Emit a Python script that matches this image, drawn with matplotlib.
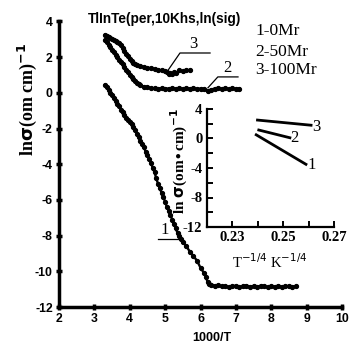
import matplotlib
matplotlib.use("Agg")
import matplotlib.pyplot as plt
from matplotlib.ticker import MultipleLocator

plt.rcParams["axes.unicode_minus"] = False

# ---------------- data ----------------
x1 = [3.30, 3.35, 3.40, 3.45, 3.50, 3.55, 3.60, 3.65, 3.70, 3.75, 3.80, 3.85, 3.90, 3.95,
      4.00, 4.05, 4.10, 4.15, 4.20, 4.25, 4.30, 4.35, 4.40, 4.45, 4.50, 4.55, 4.60, 4.65,
      4.70, 4.75, 4.80, 4.85, 4.90, 4.95, 5.00, 5.05, 5.10, 5.15, 5.20, 5.25, 5.30, 5.35,
      5.40, 5.45, 5.50, 5.60, 5.70, 5.80, 5.90, 6.00, 6.10, 6.15, 6.20, 6.25,
      6.30, 6.40, 6.50, 6.60, 6.70, 6.80, 6.90, 7.00, 7.10, 7.20, 7.30, 7.40, 7.50,
      7.60, 7.70, 7.80, 7.90, 8.00, 8.10, 8.20, 8.30, 8.40, 8.50, 8.60, 8.70]
y1 = [0.45, 0.30, 0.15, 0.00, -0.15, -0.30, -0.45, -0.60, -0.75, -0.95, -1.10, -1.25, -1.40, -1.55,
      -1.65, -1.75, -1.90, -2.10, -2.30, -2.50, -2.70, -2.85, -3.05, -3.30, -3.50, -3.70, -3.95, -4.20,
      -4.45, -4.80, -5.10, -5.35, -5.60, -5.85, -6.10, -6.40, -6.60, -6.85, -7.10, -7.35, -7.60, -7.85,
      -8.05, -8.20, -8.35, -8.60, -8.90, -9.15, -9.40, -9.80, -10.10, -10.30, -10.60, -10.70,
      -10.75, -10.80, -10.78, -10.85, -10.82, -10.90, -10.85, -10.80, -10.88, -10.84, -10.80, -10.86, -10.82,
      -10.88, -10.80, -10.85, -10.90, -10.82, -10.86, -10.80, -10.88, -10.84, -10.82, -10.86, -10.84]

x2 = [3.30, 3.35, 3.40, 3.45, 3.50, 3.55, 3.60, 3.65, 3.70, 3.75, 3.80, 3.85, 3.90, 3.95,
      4.00, 4.05, 4.10, 4.15, 4.20, 4.25, 4.30, 4.40, 4.50, 4.60, 4.70, 4.80, 4.90, 5.00,
      5.10, 5.20, 5.30, 5.40, 5.50, 5.60, 5.70, 5.80, 5.90, 6.00, 6.10, 6.20, 6.30, 6.40,
      6.50, 6.60, 6.70, 6.80, 6.90, 7.00, 7.10]
y2 = [2.95, 2.85, 2.70, 2.55, 2.42, 2.28, 2.12, 1.98, 1.85, 1.72, 1.60, 1.45, 1.30, 1.15,
      1.02, 0.90, 0.78, 0.66, 0.56, 0.48, 0.42, 0.35, 0.30, 0.27, 0.25, 0.24, 0.25, 0.23,
      0.24, 0.26, 0.23, 0.25, 0.22, 0.26, 0.24, 0.25, 0.22, 0.24, 0.20, 0.12, 0.18, 0.24,
      0.28, 0.22, 0.26, 0.20, 0.25, 0.22, 0.24]

x3 = [3.30, 3.35, 3.40, 3.45, 3.50, 3.55, 3.60, 3.65, 3.70, 3.75, 3.80, 3.85, 3.90, 3.95,
      4.00, 4.05, 4.10, 4.15, 4.20, 4.30, 4.40, 4.50, 4.60, 4.70, 4.80, 4.90, 5.00, 5.05,
      5.10, 5.15, 5.20, 5.25, 5.30, 5.40, 5.50, 5.60, 5.70]
y3 = [3.25, 3.20, 3.12, 3.05, 3.00, 2.95, 2.90, 2.85, 2.78, 2.65, 2.50, 2.35, 2.20, 2.05,
      1.90, 1.78, 1.68, 1.60, 1.55, 1.48, 1.45, 1.40, 1.38, 1.33, 1.30, 1.25, 1.20, 1.15,
      1.05, 1.10, 1.05, 1.15, 1.10, 1.25, 1.20, 1.25, 1.25]

# inset: straight segments (T^-1/4 vs ln sigma)
ix1 = [0.2395, 0.2590]
iy1 = [0.5, -3.5]
ix2 = [0.2405, 0.2527]
iy2 = [1.15, 0.10]
ix3 = [0.2400, 0.2610]
iy3 = [2.50, 1.80]

legend_lines = ["1-0Mr", "2-50Mr", "3-100Mr"]
title = "TlInTe(per,10Khs,ln(sig)"

# ---------------- figure ----------------
W, H = 361, 352
fig = plt.figure(figsize=(W / 100, H / 100), dpi=100)
fig.patch.set_facecolor("white")

SANS = ["Liberation Sans", "DejaVu Sans"]
SERIF = ["Liberation Serif", "DejaVu Serif"]

def fx(px):
    return px / W

def fy(py):
    return 1 - py / H

ax = fig.add_axes([fx(59), fy(307), fx(342) - fx(59), fy(21.4) - fy(307)])
ax.set_xlim(2, 10)
ax.set_ylim(-12, 4)
for s in ["top", "right"]:
    ax.spines[s].set_visible(False)
for s in ["left", "bottom"]:
    ax.spines[s].set_linewidth(2.5)
ax.xaxis.set_major_locator(MultipleLocator(1))
ax.yaxis.set_major_locator(MultipleLocator(2))
ax.tick_params(direction="inout", length=5, width=2.5, pad=2)
for lab in ax.get_xticklabels() + ax.get_yticklabels():
    lab.set_fontfamily(SANS)
    lab.set_fontweight("bold")
    lab.set_fontsize(8.8)

kw = dict(color="black", marker="o", markersize=2.8, linewidth=1.7, clip_on=False)
ax.plot(x1, y1, **kw)
ax.plot(x2, y2, **kw)
ax.plot(x3, y3, **kw)

# curve labels with leader lines (data coords)
ax.plot([5.05, 5.42, 6.27], [1.17, 2.23, 2.23], color="black", lw=0.9)
ax.text(5.8, 2.28, "3", fontfamily=SERIF, fontsize=12, ha="center", va="bottom")
ax.plot([6.21, 6.49, 7.06], [0.28, 0.89, 0.89], color="black", lw=0.9)
ax.text(6.75, 0.94, "2", fontfamily=SERIF, fontsize=12, ha="center", va="bottom")
ax.plot([4.8, 5.47], [-8.2, -8.2], color="black", lw=0.9)
ax.text(5.0, -8.15, "1", fontfamily=SERIF, fontsize=12, ha="center", va="bottom")

fig.text(fx(212), fy(338), "1000/T", fontfamily=SANS, fontweight="bold",
         fontsize=9, ha="center", va="center")
fig.text(fx(27), fy(99), r"ln$\mathbf{\sigma}$(om cm)$^{\mathbf{-1}}$", rotation=90,
         fontfamily=SERIF, fontweight="bold", fontsize=13, ha="center", va="center")
fig.text(fx(165), fy(19), title, fontfamily=SANS, fontweight="bold",
         fontsize=9.8, ha="center", va="center")
for txt, py in zip(legend_lines, [31, 52, 70]):
    fig.text(fx(255), fy(py), txt, fontfamily=SERIF, fontsize=12.5, ha="left", va="center")

# ---------------- inset ----------------
ia = fig.add_axes([fx(206.5), fy(227), fx(334) - fx(206.5), fy(109) - fy(227)])
ia.patch.set_alpha(0)
ia.set_xlim(0.22, 0.27)
ia.set_ylim(-12, 4)
for s in ["top", "right"]:
    ia.spines[s].set_visible(False)
for s in ["left", "bottom"]:
    ia.spines[s].set_linewidth(1.6)
ia.set_xticks([0.23, 0.25, 0.27])
ia.set_xticks([0.22, 0.24, 0.26], minor=True)
ia.set_yticks([4, 0, -4, -8, -12])
ia.set_yticks([2, -2, -6, -10], minor=True)
ia.tick_params(which="both", direction="in", length=4, width=1.4, pad=3)
ia.set_xticklabels(["0.23", "0.25", "0.27"])
ia.set_yticklabels(["4", "0", "-4", "-8", "-12"])
for lab in ia.get_xticklabels() + ia.get_yticklabels():
    lab.set_fontfamily(SERIF)
    lab.set_fontweight("bold")
    lab.set_fontsize(10.5)

ia.plot(ix1, iy1, color="black", lw=2)
ia.plot(ix2, iy2, color="black", lw=2)
ia.plot(ix3, iy3, color="black", lw=2)
ia.text(0.2595, -3.6, "1", fontfamily=SERIF, fontsize=12, va="center", ha="left")
ia.text(0.2530, 0.0, "2", fontfamily=SERIF, fontsize=12, va="center", ha="left")
ia.text(0.2615, 1.6, "3", fontfamily=SERIF, fontsize=12, va="center", ha="left")

fig.text(fx(179), fy(161), r"ln $\mathbf{\sigma}$(om$\bullet$cm)$^{\mathbf{-1}}$", rotation=90,
         fontfamily=SERIF, fontweight="bold", fontsize=11, ha="center", va="center")
fig.text(fx(270), fy(262), r"T$^{-1/4}$ K$^{-1/4}$", fontfamily=SERIF,
         fontsize=10.5, ha="center", va="center")

fig.savefig("out.png", dpi=100, facecolor="white")
